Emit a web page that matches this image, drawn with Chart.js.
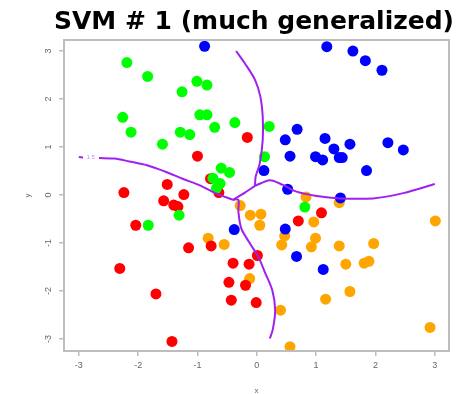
<!DOCTYPE html>
<html>
<head>
<meta charset="utf-8">
<script src="https://cdn.jsdelivr.net/npm/chart.js@4/dist/chart.umd.min.js"></script>
<style>
	html, body { margin: 0; padding: 0; background: #ffffff; }
	#svmChart { display: block; }
</style>
</head>
<body>
<canvas id="svmChart" width="470" height="394"></canvas>
<script>
// Tick labels
const xTicks = [-3, -2, -1, 0, 1, 2, 3];
const yTicks = [-3, -2, -1, 0, 1, 2, 3];

// Class points [x, y]
const bluePoints = [
	[-0.88, 3.10], [1.18, 3.09], [1.62, 3.00], [1.83, 2.80], [2.11, 2.60],
	[0.68, 1.37], [0.48, 1.15], [1.15, 1.18], [1.30, 0.96], [1.57, 1.06],
	[2.21, 1.09], [2.47, 0.94], [0.56, 0.81], [0.99, 0.80], [1.11, 0.73],
	[1.39, 0.78], [1.44, 0.78], [1.85, 0.51], [0.12, 0.51], [0.52, 0.12],
	[1.41, -0.06], [0.48, -0.71], [-0.38, -0.72], [0.67, -1.28], [1.12, -1.55]
];
const greenPoints = [
	[-2.19, 2.76], [-1.84, 2.47], [-1.01, 2.37], [-0.84, 2.29], [-1.26, 2.15],
	[-2.26, 1.62], [-0.96, 1.67], [-0.84, 1.67], [-0.37, 1.51], [-0.71, 1.41],
	[-2.12, 1.31], [-1.29, 1.31], [-1.13, 1.26], [-1.59, 1.06], [0.21, 1.43],
	[0.13, 0.80], [-0.60, 0.56], [-0.46, 0.47], [-0.74, 0.35], [-0.62, 0.24],
	[-0.68, 0.14], [0.81, -0.25], [-1.31, -0.42], [-1.83, -0.63]
];
const redPoints = [
	[-1.00, 0.81], [-0.16, 1.20], [-1.51, 0.22], [-2.24, 0.05], [-1.23, 0.01],
	[-0.78, 0.34], [-0.64, 0.05], [-1.57, -0.12], [-1.40, -0.21], [-1.33, -0.24],
	[-2.04, -0.63], [-1.15, -1.10], [-0.77, -1.06], [-2.31, -1.53], [-0.40, -1.42],
	[-1.70, -2.06], [-0.47, -1.82], [-0.43, -2.19], [-1.43, -3.05], [0.01, -1.26],
	[-0.13, -1.44], [-0.19, -1.88], [-0.01, -2.24], [1.09, -0.37], [0.70, -0.54]
];
const orangePoints = [
	[-0.28, -0.22], [-0.11, -0.42], [0.07, -0.40], [0.05, -0.63], [0.83, -0.04],
	[1.39, -0.16], [0.96, -0.56], [3.01, -0.54], [0.47, -0.85], [0.42, -1.04],
	[0.99, -0.90], [0.92, -1.08], [1.39, -1.06], [1.97, -1.01], [1.50, -1.44],
	[1.81, -1.42], [1.89, -1.38], [-0.12, -1.74], [1.57, -2.01], [1.16, -2.17],
	[0.40, -2.40], [2.92, -2.76], [0.56, -3.16], [-0.82, -0.90], [-0.55, -1.03]
];

// Decision boundaries [x, y]
const leftStub = [[-3.00, 0.79], [-2.93, 0.78]];
const leftBoundary = [
	[-2.66, 0.77], [-2.40, 0.76], [-2.15, 0.70], [-1.85, 0.62], [-1.55, 0.49],
	[-1.25, 0.34], [-0.96, 0.20], [-0.70, 0.04], [-0.40, -0.10]
];
const linkBoundary = [[-0.40, -0.10], [-0.20, 0.05], [-0.03, 0.19]];
const topBoundary = [
	[-0.35, 3.00], [-0.20, 2.74], [-0.03, 2.40], [0.06, 2.05], [0.10, 1.63],
	[0.10, 1.15], [0.05, 0.66], [-0.02, 0.38], [-0.03, 0.19]
];
const rightBoundary = [
	[-0.03, 0.19], [0.22, 0.31], [0.44, 0.21], [0.67, 0.07], [1.01, -0.02],
	[1.40, -0.07], [1.96, -0.07], [2.47, 0.04], [3.00, 0.23]
];
const bottomBoundary = [
	[-0.40, -0.10], [-0.31, -0.10], [-0.31, -0.35], [-0.26, -0.70], [-0.12, -1.00],
	[0.03, -1.30], [0.14, -1.62], [0.26, -1.98], [0.31, -2.40], [0.27, -2.80],
	[0.22, -2.99]
];
const contourLabel = '1.5';

document.addEventListener('DOMContentLoaded', function() {
	const purpleColor = '#a020f0',
		frameColor = '#bdbdbd',
		labelColor = '#666666';

	const toXY = pts => pts.map(p => ({ x: p[0], y: p[1] }));

	const pointSet = (pts, color) => ({
		data: toXY(pts),
		backgroundColor: color,
		borderWidth: 0,
		pointRadius: 5.5,
		pointHoverRadius: 5.5,
		clip: 8,
		order: 2
	});

	const lineSet = pts => ({
		data: toXY(pts),
		showLine: true,
		borderColor: purpleColor,
		borderWidth: 2,
		pointRadius: 0,
		tension: 0.3,
		fill: false,
		order: 1
	});

	// box round the plot region and the contour level label
	const framePlugin = {
		id: 'frame',
		afterDatasetsDraw(chart) {
			const { ctx, chartArea: a, scales } = chart;
			ctx.save();
			ctx.strokeStyle = frameColor;
			ctx.lineWidth = 2;
			ctx.strokeRect(a.left, a.top, a.right - a.left, a.bottom - a.top);
			ctx.fillStyle = '#c58cf5';
			ctx.font = '6px "Liberation Sans", sans-serif';
			ctx.textAlign = 'center';
			ctx.textBaseline = 'middle';
			ctx.fillText(contourLabel, scales.x.getPixelForValue(-2.80), scales.y.getPixelForValue(0.78));
			ctx.restore();
		}
	};

	const svmChart = document.getElementById('svmChart');
	new Chart(svmChart, {
		type: 'scatter',
		data: {
			datasets: [
				lineSet(leftStub),
				lineSet(leftBoundary),
				lineSet(linkBoundary),
				lineSet(topBoundary),
				lineSet(rightBoundary),
				lineSet(bottomBoundary),
				pointSet(bluePoints, '#0000ff'),
				pointSet(greenPoints, '#00ff00'),
				pointSet(redPoints, '#ff0000'),
				pointSet(orangePoints, '#ffa500')
			]
		},
		options: {
			responsive: false,
			devicePixelRatio: 1,
			animation: false,
			layout: {
				padding: { left: 38, right: 0, top: 0, bottom: 0 }
			},
			plugins: {
				legend: { display: false },
				tooltip: { enabled: false },
				title: {
					display: true,
					text: 'SVM # 1 (much generalized)',
					color: '#000000',
					font: { family: '"DejaVu Sans", sans-serif', size: 25, weight: 'bold', lineHeight: 1.2 },
					padding: { top: 7, bottom: 3 }
				}
			},
			scales: {
				x: {
					type: 'linear',
					min: -3.25,
					max: 3.24,
					afterBuildTicks: axis => { axis.ticks = xTicks.map(v => ({ value: v })); },
					afterFit: axis => { axis.height = 43; },
					grid: { drawOnChartArea: false, drawTicks: true, tickLength: 5, color: frameColor, lineWidth: 1.5 },
					border: { display: false },
					ticks: {
						color: labelColor,
						padding: 4,
						font: { family: '"Liberation Sans", sans-serif', size: 9 }
					},
					title: {
						display: true,
						text: 'x',
						color: labelColor,
						font: { family: '"Liberation Sans", sans-serif', size: 8 },
						padding: { top: 0, bottom: -2 }
					}
				},
				y: {
					type: 'linear',
					min: -3.25,
					max: 3.23,
					afterBuildTicks: axis => { axis.ticks = yTicks.map(v => ({ value: v })); },
					afterFit: axis => { axis.width = 26; },
					grid: { drawOnChartArea: false, drawTicks: true, tickLength: 5, color: frameColor, lineWidth: 1.5 },
					border: { display: false },
					ticks: {
						color: labelColor,
						padding: 6,
						minRotation: 90,
						maxRotation: 90,
						crossAlign: 'center',
						font: { family: '"Liberation Sans", sans-serif', size: 9 }
					},
					title: {
						display: true,
						text: 'y',
						color: labelColor,
						font: { family: '"Liberation Sans", sans-serif', size: 8 },
						padding: { top: -15, bottom: 0 }
					}
				},
				yRight: {
					type: 'linear',
					position: 'right',
					display: true,
					afterFit: axis => { axis.width = 21; },
					grid: { display: false },
					border: { display: false },
					ticks: { display: false }
				}
			}
		},
		plugins: [framePlugin]
	});
});
</script>
</body>
</html>
